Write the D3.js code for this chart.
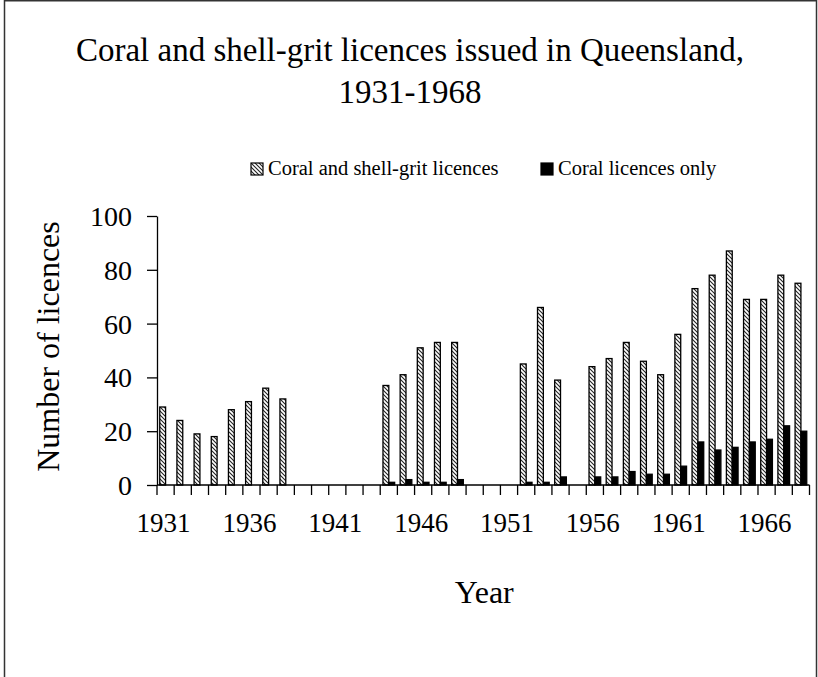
<!DOCTYPE html>
<html lang="en">
<head>
    <meta charset="UTF-8">
    <title>Coral and shell-grit licences issued in Queensland, 1931-1968</title>
    <style>
        body {
            margin: 0;
            padding: 0;
            background: #fff;
        }

        svg text {
            font-family: "Liberation Serif", "Times New Roman", serif;
            fill: #000;
        }
    </style>
</head>
<body>
<svg id="chart"></svg>

<script src="https://d3js.org/d3.v7.min.js"></script>
<script>
    // Data (null = no bar drawn)
    var years = [1931, 1932, 1933, 1934, 1935, 1936, 1937, 1938, 1939, 1940,
        1941, 1942, 1943, 1944, 1945, 1946, 1947, 1948, 1949, 1950,
        1951, 1952, 1953, 1954, 1955, 1956, 1957, 1958, 1959, 1960,
        1961, 1962, 1963, 1964, 1965, 1966, 1967, 1968];
    var shellGrit = [29, 24, 19, 18, 28, 31, 36, 32, null, null,
        null, null, null, 37, 41, 51, 53, 53, null, null,
        null, 45, 66, 39, null, 44, 47, 53, 46, 41,
        56, 73, 78, 87, 69, 69, 78, 75];
    var coralOnly = [null, null, null, null, null, null, null, null, null, null,
        null, null, null, 1, 2, 1, 1, 2, null, null,
        null, 1, 1, 3, null, 3, 3, 5, 4, 4,
        7, 16, 13, 14, 16, 17, 22, 20];
    var yTicks = [0, 20, 40, 60, 80, 100];
    var seriesNames = ["Coral and shell-grit licences", "Coral licences only"];
    var titleLines = ["Coral and shell-grit licences issued in Queensland,", "1931-1968"];

    var W = 818, H = 677;
    var margin = {top: 216, right: 8.5, bottom: 192, left: 157};
    var width = W - margin.left - margin.right,
        height = H - margin.top - margin.bottom;

    var svg = d3.select("#chart")
        .attr("width", W)
        .attr("height", H);

    // hatch pattern for the first series
    var defs = svg.append("defs");
    var pat = defs.append("pattern")
        .attr("id", "hatch")
        .attr("patternUnits", "userSpaceOnUse")
        .attr("width", 4)
        .attr("height", 4);
    pat.append("rect").attr("width", 4).attr("height", 4).attr("fill", "#fff");
    pat.append("path")
        .attr("d", "M0,0 L4,4 M-1,3 L1,5 M3,-1 L5,1")
        .attr("stroke", "#222")
        .attr("stroke-width", 1.1);

    // outer frame
    svg.append("rect")
        .attr("x", 4.5)
        .attr("y", 0.75)
        .attr("width", 812)
        .attr("height", 690)
        .attr("fill", "none")
        .attr("stroke", "#333")
        .attr("stroke-width", 1.5);

    // title
    svg.selectAll(".title").data(titleLines)
        .enter()
        .append("text")
        .attr("class", "title")
        .attr("x", 410)
        .attr("y", (d, i) => 61 + i * 42)
        .attr("text-anchor", "middle")
        .style("font-size", "33px")
        .text(d => d);

    var g = svg.append("g")
        .attr("transform", "translate(" + margin.left + "," + margin.top + ")");

    var x = d3.scaleBand()
        .domain(years)
        .range([0, width])
        .paddingInner(0.32)
        .paddingOuter(0.16);

    var x1 = d3.scaleBand()
        .domain([0, 1])
        .range([0, x.bandwidth()]);

    var y = d3.scaleLinear()
        .domain([0, 100])
        .range([height, 0]);

    // bars
    var series = [shellGrit, coralOnly];
    var fills = ["url(#hatch)", "#000"];
    series.forEach(function (vals, s) {
        g.selectAll(".bar" + s)
            .data(years.map((yr, i) => ({year: yr, value: vals[i]})).filter(d => d.value != null))
            .enter()
            .append("rect")
            .attr("class", "bar" + s)
            .attr("x", d => x(d.year) + x1(s))
            .attr("y", d => y(d.value))
            .attr("width", x1.bandwidth())
            .attr("height", d => y(0) - y(d.value))
            .attr("fill", fills[s])
            .attr("stroke", "#000")
            .attr("stroke-width", 1.3);
    });

    // y axis
    var yAxis = g.append("g")
        .call(d3.axisLeft(y).tickValues(yTicks).tickSize(10).tickSizeOuter(0).tickPadding(15));
    yAxis.select(".domain").attr("stroke", "#000").attr("stroke-width", 1.3);
    yAxis.selectAll(".tick line").attr("stroke", "#000").attr("stroke-width", 1.3);
    yAxis.selectAll(".tick text")
        .style("font-family", "'Liberation Serif', 'Times New Roman', serif")
        .style("font-size", "28px")
        .attr("dy", "0.34em");

    // x axis: ticks on category boundaries, labels every 5 years
    var step = x.step();
    var xAxis = g.append("g").attr("transform", "translate(0," + height + ")");
    xAxis.append("line")
        .attr("x1", 0).attr("x2", width)
        .attr("stroke", "#000").attr("stroke-width", 1.3);
    xAxis.selectAll(".xtick")
        .data(years)
        .enter()
        .append("line")
        .attr("class", "xtick")
        .attr("x1", d => x(d) - step * 0.16)
        .attr("x2", d => x(d) - step * 0.16)
        .attr("y1", 0)
        .attr("y2", 10)
        .attr("stroke", "#000")
        .attr("stroke-width", 1.3);
    xAxis.append("line")
        .attr("x1", width).attr("x2", width)
        .attr("y1", 0).attr("y2", 10)
        .attr("stroke", "#000").attr("stroke-width", 1.3);
    xAxis.selectAll(".xlabel")
        .data(years.filter((d, i) => i % 5 === 0))
        .enter()
        .append("text")
        .attr("class", "xlabel")
        .attr("x", d => x(d) + x.bandwidth() / 2 - 2)
        .attr("y", 47)
        .attr("text-anchor", "middle")
        .style("font-size", "27px")
        .text(d => d);

    // axis titles
    svg.append("text")
        .attr("transform", "translate(59," + (margin.top + height / 2 - 4) + ") rotate(-90)")
        .attr("text-anchor", "middle")
        .style("font-size", "32px")
        .text("Number of licences");

    svg.append("text")
        .attr("x", margin.left + width / 2 + 1)
        .attr("y", 603)
        .attr("text-anchor", "middle")
        .style("font-size", "32px")
        .text("Year");

    // legend
    var legendX = [251, 541];
    var legend = svg.selectAll(".legend")
        .data(seriesNames)
        .enter()
        .append("g")
        .attr("class", "legend")
        .attr("transform", (d, i) => "translate(" + legendX[i] + ",163)");
    legend.append("rect")
        .attr("width", 12)
        .attr("height", 12)
        .attr("fill", (d, i) => fills[i])
        .attr("stroke", "#000")
        .attr("stroke-width", 1.2);
    legend.append("text")
        .attr("x", 17)
        .attr("y", 12)
        .style("font-size", "20.5px")
        .text(d => d);
</script>
</body>
</html>
